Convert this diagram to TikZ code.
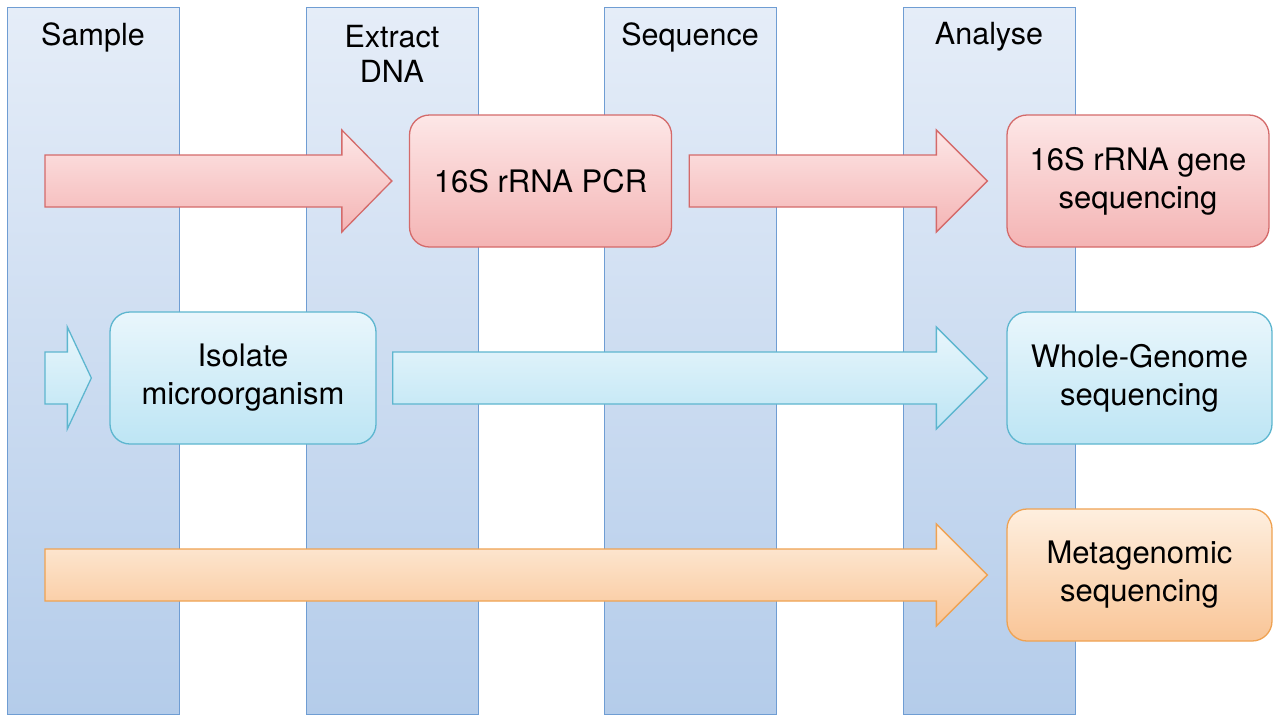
\documentclass[tikz,border=0pt]{standalone}
\usepackage{fontspec}
\setmainfont{TeX Gyre Heros}
\usetikzlibrary{calc}
\definecolor{colTop}{HTML}{E5EDF8}
\definecolor{colBot}{HTML}{B4CCEA}
\definecolor{colLine}{HTML}{6F9DD3}
\definecolor{redTop}{HTML}{FDE7E7}
\definecolor{redBot}{HTML}{F4B4B4}
\definecolor{redLine}{HTML}{D46A6A}
\definecolor{bluTop}{HTML}{E9F6FC}
\definecolor{bluBot}{HTML}{BDE5F4}
\definecolor{bluLine}{HTML}{5DB6CF}
\definecolor{orgTop}{HTML}{FEEFDF}
\definecolor{orgBot}{HTML}{F9C597}
\definecolor{orgLine}{HTML}{EFA252}
\newcommand\fatarrow[4]{% style, start, tip, head length
  \path[#1] let \p1=(#2), \p2=(#3) in
    (\x1,\y1+26) -- (\x2-#4,\y1+26) -- (\x2-#4,\y1+51) -- (\x2,\y1)
    -- (\x2-#4,\y1-51) -- (\x2-#4,\y1-26) -- (\x1,\y1-26) -- cycle;}
\tikzset{
  txt/.style={font=\fontsize{30.5}{35}\selectfont, align=center, text=black},
  btxt/.style={font=\fontsize{31}{38}\selectfont, align=center, text=black},
  colbox/.style={draw=colLine, line width=1.3pt, top color=colTop, bottom color=colBot,
    minimum width=172, minimum height=707, anchor=north west, inner sep=0},
  stepbox/.style={btxt, rounded corners=20, line width=1.3pt, minimum height=132, inner sep=0},
  redbox/.style={stepbox, draw=redLine, top color=redTop, bottom color=redBot},
  blubox/.style={stepbox, draw=bluLine, top color=bluTop, bottom color=bluBot},
  orgbox/.style={stepbox, draw=orgLine, top color=orgTop, bottom color=orgBot},
  redarrow/.style={draw=redLine, line width=1.3pt, top color=redTop, bottom color=redBot},
  bluarrow/.style={draw=bluLine, line width=1.3pt, top color=bluTop, bottom color=bluBot},
  orgarrow/.style={draw=orgLine, line width=1.3pt, top color=orgTop, bottom color=orgBot},
}
\begin{document}
\begin{tikzpicture}[x=1pt,y=-1pt]
\useasboundingbox (0,0) rectangle (1280,721);
\fill[white] (0,0) rectangle (1280,721);
% columns
\node[colbox] (col1) at (7,7) {};
\node[colbox] (col2) at (306,7) {};
\node[colbox] (col3) at (604,7) {};
\node[colbox] (col4) at (903,7) {};
\node[txt] (h1) at (93,37) {Sample};
\node[txt] (h2) at (392,54) {Extract\\DNA};
\node[txt] (h3) at (690,37) {Sequence};
\node[txt] (h4) at (989,37) {Analyse};
% boxes
\node[redbox, minimum width=262] (pcr) at (540.5,181) {16S rRNA PCR};
\node[redbox, minimum width=262] (gene) at (1138,181) {16S rRNA gene\\sequencing};
\node[blubox, minimum width=266] (iso) at (243,378) {Isolate\\microorganism};
\node[blubox, minimum width=265] (wgs) at (1139.5,378) {Whole-Genome\\sequencing};
\node[orgbox, minimum width=265] (meta) at (1139.5,575) {Metagenomic\\sequencing};
% arrow end points
\coordinate (r0) at (45,181);
\coordinate (b0) at (45,378);
\coordinate (o0) at (45,575);
\fatarrow{redarrow}{r0}{$(pcr.west)+(-17,0)$}{50}
\fatarrow{redarrow}{$(pcr.east)+(17,0)$}{$(gene.west)+(-19,0)$}{51}
\fatarrow{bluarrow}{b0}{$(iso.west)+(-18,0)$}{24}
\fatarrow{bluarrow}{$(iso.east)+(16,0)$}{$(wgs.west)+(-19,0)$}{51}
\fatarrow{orgarrow}{o0}{$(meta.west)+(-19,0)$}{51}
\end{tikzpicture}
\end{document}
